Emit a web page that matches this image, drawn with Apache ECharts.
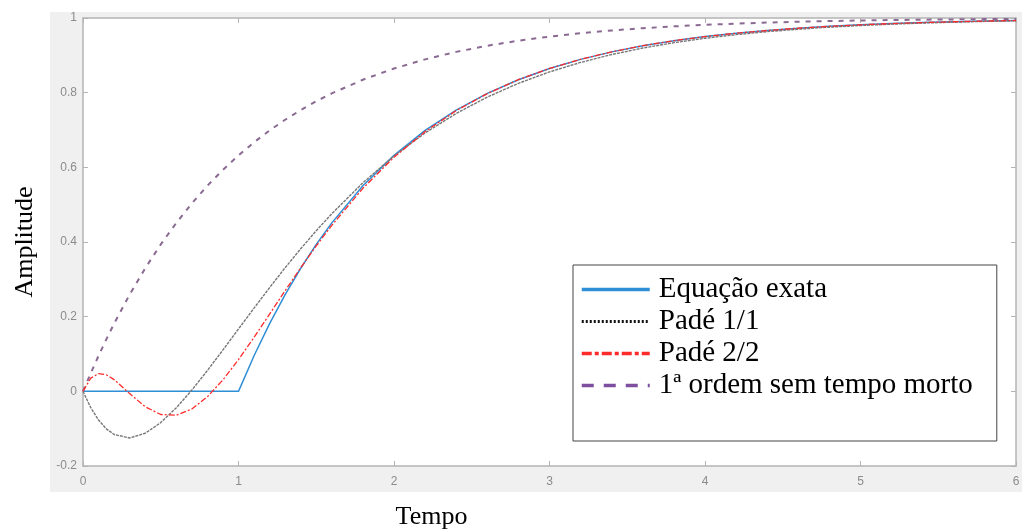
<!DOCTYPE html>
<html>
<head>
<meta charset="utf-8">
<script src="https://cdn.jsdelivr.net/npm/echarts@6/dist/echarts.min.js"></script>
<style>
  html, body { margin: 0; padding: 0; background: #fff; }
  #chart { width: 1025px; height: 532px; }
</style>
</head>
<body>
<div id="chart"></div>
<script>
// tempo (s)
const tempo = [0, 0.05, 0.1, 0.15, 0.2, 0.3, 0.4, 0.5, 0.6, 0.7, 0.8, 0.9, 1.0,
  1.1, 1.2, 1.3, 1.4, 1.5, 1.6, 1.8, 2.0, 2.2, 2.4, 2.6, 2.8, 3.0, 3.2, 3.4, 3.6,
  3.8, 4.0, 4.2, 4.4, 4.6, 4.8, 5.0, 5.2, 5.4, 5.6, 5.8, 6.0];

const eqExata = [0, 0, 0, 0, 0, 0, 0, 0, 0, 0, 0, 0, 0,
  0.0952, 0.1813, 0.2592, 0.3297, 0.3935, 0.4512, 0.5507, 0.6321, 0.6988, 0.7534,
  0.7981, 0.8347, 0.8647, 0.8892, 0.9093, 0.9257, 0.9392, 0.9502, 0.9592, 0.9666,
  0.9727, 0.9776, 0.9817, 0.9850, 0.9877, 0.9899, 0.9918, 0.9933];

const pade11 = [0, -0.0439, -0.0770, -0.1005, -0.1156, -0.1249, -0.1123, -0.0838,
  -0.0440, 0.0034, 0.0558, 0.1109, 0.1671, 0.2229, 0.2778, 0.3311, 0.3818, 0.4303,
  0.4758, 0.5587, 0.6306, 0.6922, 0.7443, 0.7882, 0.8250, 0.8556, 0.8810, 0.9021,
  0.9195, 0.9339, 0.9458, 0.9554, 0.9635, 0.9700, 0.9754, 0.9799, 0.9835, 0.9865,
  0.9889, 0.9909, 0.9926];

const pade22 = [0, 0.0354, 0.0476, 0.0443, 0.0315, -0.0061, -0.0413, -0.0621,
  -0.0639, -0.0472, -0.0144, 0.0308, 0.0850, 0.1446, 0.2068, 0.2696, 0.3309, 0.3895,
  0.4448, 0.5438, 0.6271, 0.6957, 0.7519, 0.7974, 0.8347, 0.8648, 0.8893, 0.9093,
  0.9259, 0.9392, 0.9503, 0.9593, 0.9666, 0.9726, 0.9777, 0.9818, 0.9851, 0.9878,
  0.9900, 0.9918, 0.9933];

const primeiraOrdem = [0, 0.0488, 0.0952, 0.1393, 0.1813, 0.2592, 0.3297, 0.3935,
  0.4512, 0.5034, 0.5507, 0.5934, 0.6321, 0.6671, 0.6988, 0.7275, 0.7534, 0.7769,
  0.7981, 0.8347, 0.8647, 0.8892, 0.9093, 0.9257, 0.9392, 0.9502, 0.9592, 0.9666,
  0.9727, 0.9776, 0.9817, 0.9850, 0.9877, 0.9899, 0.9918, 0.9933, 0.9945, 0.9955,
  0.9963, 0.9970, 0.9975];

const nomes = ['Equação exata', 'Padé 1/1', 'Padé 2/2', '1ª ordem sem tempo morto'];

function pares(ys) {
  return tempo.map((t, i) => [t, ys[i]]);
}

const chart = echarts.init(document.getElementById('chart'));

const eixoCor = '#b4b4b4';
const rotuloCor = '#8c8c8c';

chart.setOption({
  backgroundColor: '#fff',
  animation: false,
  graphic: [{
    type: 'rect',
    z: -10,
    shape: { x: 50, y: 12, width: 972, height: 480 },
    style: { fill: '#f0f0f0' }
  }],
  grid: {
    left: 83, right: 9, top: 18, bottom: 66,
    outerBoundsMode: 'none',
    containLabel: false,
    show: true,
    backgroundColor: '#fff',
    borderWidth: 0
  },
  legend: {
    orient: 'vertical',
    left: 573,
    top: 265,
    padding: [10, 24, 41, 7],
    itemWidth: 68,
    itemHeight: 14,
    itemGap: 3,
    backgroundColor: '#fff',
    borderColor: '#444',
    borderWidth: 1,
    borderRadius: 0,
    itemStyle: { opacity: 0 },
    textStyle: {
      fontFamily: 'Liberation Serif',
      fontSize: 29,
      lineHeight: 28,
      color: '#000',
      padding: [0, 0, 0, 4]
    },
    data: [
      { name: nomes[0], lineStyle: { width: 3.5 } },
      { name: nomes[1], lineStyle: { width: 3, type: [2, 2], color: '#111' } },
      { name: nomes[2], lineStyle: { width: 3.5, type: [10, 3, 4, 3] } },
      { name: nomes[3], lineStyle: { width: 3.5, type: [12, 10], color: '#7e4f9e' } }
    ]
  },
  xAxis: [{
    type: 'value',
    min: 0, max: 6, interval: 1,
    name: 'Tempo',
    nameLocation: 'middle',
    nameGap: 38,
    nameTextStyle: {
      fontFamily: 'Liberation Serif', fontSize: 26, color: '#000',
      padding: [0, 236, 0, 0]
    },
    axisLine: { onZero: false, lineStyle: { color: eixoCor, width: 1.5 } },
    axisTick: { inside: true, length: 5, lineStyle: { color: eixoCor } },
    axisLabel: { color: rotuloCor, fontSize: 12, margin: 10, fontFamily: 'Liberation Sans' },
    splitLine: { show: false }
  }, {
    type: 'value',
    position: 'top',
    min: 0, max: 6, interval: 1,
    axisLine: { onZero: false, lineStyle: { color: eixoCor, width: 1.5 } },
    axisTick: { inside: true, length: 5, lineStyle: { color: eixoCor } },
    axisLabel: { show: false },
    splitLine: { show: false }
  }],
  yAxis: [{
    type: 'value',
    min: -0.2, max: 1, interval: 0.2,
    name: 'Amplitude',
    nameLocation: 'middle',
    nameGap: 45,
    nameTextStyle: { fontFamily: 'Liberation Serif', fontSize: 26, color: '#000' },
    axisLine: { show: true, onZero: false, lineStyle: { color: eixoCor, width: 1.5 } },
    axisTick: { show: true, inside: true, length: 5, lineStyle: { color: eixoCor } },
    axisLabel: {
      color: rotuloCor, fontSize: 12, margin: 6, fontFamily: 'Liberation Sans',
      formatter: v => String(parseFloat(v.toFixed(1)))
    },
    splitLine: { show: false }
  }, {
    type: 'value',
    position: 'right',
    min: -0.2, max: 1, interval: 0.2,
    axisLine: { show: true, onZero: false, lineStyle: { color: eixoCor, width: 1.5 } },
    axisTick: { show: true, inside: true, length: 5, lineStyle: { color: eixoCor } },
    axisLabel: { show: false },
    splitLine: { show: false }
  }],
  series: [{
    name: nomes[3],
    type: 'line',
    data: pares(primeiraOrdem),
    symbol: 'none',
    color: '#8a5c95',
    lineStyle: { width: 2, type: [5, 6], color: '#8a6a92' },
    z: 2
  }, {
    name: nomes[0],
    type: 'line',
    data: pares(eqExata),
    symbol: 'none',
    color: '#2f8fd6',
    lineStyle: { width: 1.5 },
    z: 3
  }, {
    name: nomes[1],
    type: 'line',
    data: pares(pade11),
    symbol: 'none',
    color: '#555',
    lineStyle: { width: 1.4, type: [3, 1], color: '#777' },
    z: 4
  }, {
    name: nomes[2],
    type: 'line',
    data: pares(pade22),
    symbol: 'none',
    color: '#ff2b2b',
    lineStyle: { width: 1.3, type: [6, 2, 2, 2] },
    z: 5
  }]
});
</script>
</body>
</html>
